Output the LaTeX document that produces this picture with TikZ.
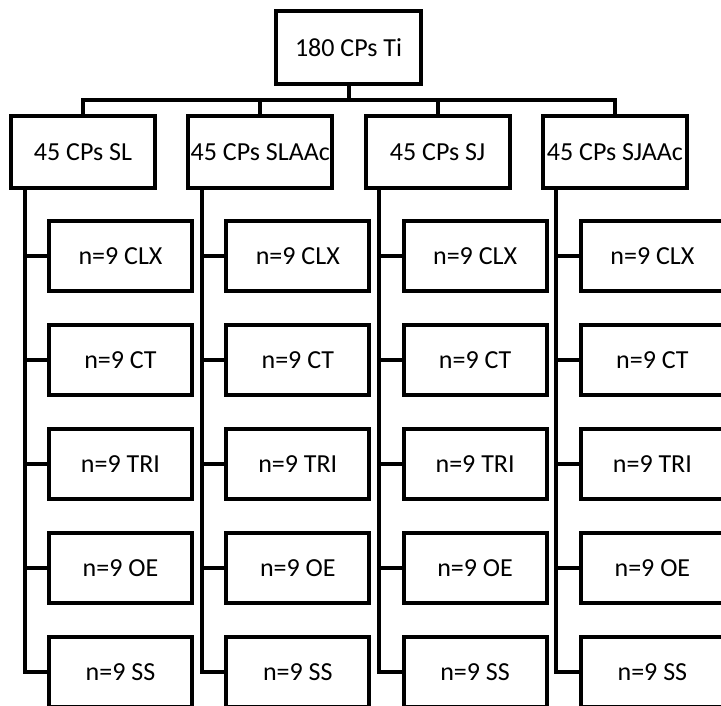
\documentclass[tikz,border=0pt]{standalone}
\usepackage{fontspec}
\setmainfont{Carlito}
\usetikzlibrary{positioning}
\tikzset{
  rootbox/.style={
    rectangle, draw=black, line width=4pt, fill=white,
    minimum width=145pt, minimum height=73pt,
    inner sep=0pt, outer sep=0pt, font=\fontsize{26}{30}\selectfont
  },
  groupbox/.style={rootbox, minimum width=144pt, minimum height=72pt},
  samplebox/.style={rootbox, minimum width=143pt, minimum height=70pt},
  treeline/.style={draw=black, line width=4pt, line join=miter}
}

\begin{document}
\begin{tikzpicture}[x=1pt, y=1pt, node distance=34pt and 33.3pt]
  \useasboundingbox (0,0) rectangle (721,-706);
  \clip (0,0) rectangle (721,-706);

  \node[rootbox] (ti) at (348.5,-47.5) {180 CPs Ti};

  \node[groupbox] (sl) at (83,-152) {45 CPs SL};
  \node[groupbox, right=of sl] (slaac) {45 CPs SLAAc};
  \node[groupbox, right=of slaac] (sj) {45 CPs SJ};
  \node[groupbox, right=of sj] (sjaac) {45 CPs SJAAc};

  % SL
  \node[samplebox, below=33pt of sl, xshift=37.5pt] (sl-clx) {n=9 CLX};
  \node[samplebox, below=of sl-clx] (sl-ct) {n=9 CT};
  \node[samplebox, below=of sl-ct] (sl-tri) {n=9 TRI};
  \node[samplebox, below=of sl-tri] (sl-oe) {n=9 OE};
  \node[samplebox, below=of sl-oe] (sl-ss) {n=9 SS};

  % SLAAc
  \node[samplebox, below=33pt of slaac, xshift=37.5pt] (slaac-clx) {n=9 CLX};
  \node[samplebox, below=of slaac-clx] (slaac-ct) {n=9 CT};
  \node[samplebox, below=of slaac-ct] (slaac-tri) {n=9 TRI};
  \node[samplebox, below=of slaac-tri] (slaac-oe) {n=9 OE};
  \node[samplebox, below=of slaac-oe] (slaac-ss) {n=9 SS};

  % SJ
  \node[samplebox, below=33pt of sj, xshift=37.5pt] (sj-clx) {n=9 CLX};
  \node[samplebox, below=of sj-clx] (sj-ct) {n=9 CT};
  \node[samplebox, below=of sj-ct] (sj-tri) {n=9 TRI};
  \node[samplebox, below=of sj-tri] (sj-oe) {n=9 OE};
  \node[samplebox, below=of sj-oe] (sj-ss) {n=9 SS};

  % SJAAc
  \node[samplebox, below=33pt of sjaac, xshift=37.5pt] (sjaac-clx) {n=9 CLX};
  \node[samplebox, below=of sjaac-clx] (sjaac-ct) {n=9 CT};
  \node[samplebox, below=of sjaac-ct] (sjaac-tri) {n=9 TRI};
  \node[samplebox, below=of sjaac-tri] (sjaac-oe) {n=9 OE};
  \node[samplebox, below=of sjaac-oe] (sjaac-ss) {n=9 SS};

  \draw[treeline] (ti.south) -- ++(0,-16) -| (sl.north);
  \draw[treeline] (ti.south) -- ++(0,-16) -| (slaac.north);
  \draw[treeline] (ti.south) -- ++(0,-16) -| (sj.north);
  \draw[treeline] (ti.south) -- ++(0,-16) -| (sjaac.north);

  \coordinate (sl-trunk) at ([xshift=13.5pt]sl.south west);
  \coordinate (slaac-trunk) at ([xshift=13.5pt]slaac.south west);
  \coordinate (sj-trunk) at ([xshift=13.5pt]sj.south west);
  \coordinate (sjaac-trunk) at ([xshift=13.5pt]sjaac.south west);

  \draw[treeline] (sl-trunk) |- (sl-ss.west);
  \draw[treeline] (sl-trunk |- sl-clx.west) -- (sl-clx.west);
  \draw[treeline] (sl-trunk |- sl-ct.west) -- (sl-ct.west);
  \draw[treeline] (sl-trunk |- sl-tri.west) -- (sl-tri.west);
  \draw[treeline] (sl-trunk |- sl-oe.west) -- (sl-oe.west);

  \draw[treeline] (slaac-trunk) |- (slaac-ss.west);
  \draw[treeline] (slaac-trunk |- slaac-clx.west) -- (slaac-clx.west);
  \draw[treeline] (slaac-trunk |- slaac-ct.west) -- (slaac-ct.west);
  \draw[treeline] (slaac-trunk |- slaac-tri.west) -- (slaac-tri.west);
  \draw[treeline] (slaac-trunk |- slaac-oe.west) -- (slaac-oe.west);

  \draw[treeline] (sj-trunk) |- (sj-ss.west);
  \draw[treeline] (sj-trunk |- sj-clx.west) -- (sj-clx.west);
  \draw[treeline] (sj-trunk |- sj-ct.west) -- (sj-ct.west);
  \draw[treeline] (sj-trunk |- sj-tri.west) -- (sj-tri.west);
  \draw[treeline] (sj-trunk |- sj-oe.west) -- (sj-oe.west);

  \draw[treeline] (sjaac-trunk) |- (sjaac-ss.west);
  \draw[treeline] (sjaac-trunk |- sjaac-clx.west) -- (sjaac-clx.west);
  \draw[treeline] (sjaac-trunk |- sjaac-ct.west) -- (sjaac-ct.west);
  \draw[treeline] (sjaac-trunk |- sjaac-tri.west) -- (sjaac-tri.west);
  \draw[treeline] (sjaac-trunk |- sjaac-oe.west) -- (sjaac-oe.west);
\end{tikzpicture}
\end{document}
